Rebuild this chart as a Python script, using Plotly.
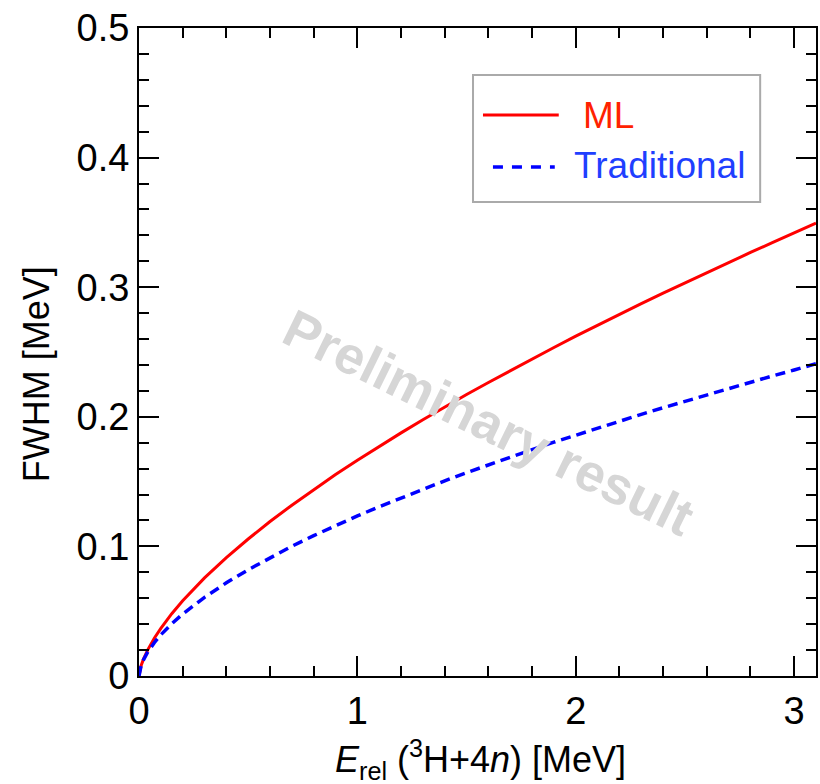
import plotly.graph_objects as go

# Data
energy = [0, 0.01, 0.02, 0.04, 0.07, 0.1, 0.15, 0.2, 0.3, 0.4, 0.5, 0.6, 0.7, 0.8,
          0.9, 1.0, 1.1, 1.2, 1.3, 1.4, 1.5, 1.6, 1.7, 1.8, 1.9, 2.0, 2.1, 2.2,
          2.3, 2.4, 2.5, 2.6, 2.7, 2.8, 2.9, 3.0, 3.1]
fwhm_ml = [0, 0.0082, 0.0128, 0.0202, 0.0292, 0.0368, 0.0481, 0.0580, 0.0757,
           0.0914, 0.1057, 0.1192, 0.1318, 0.1439, 0.1554, 0.1665, 0.1772,
           0.1876, 0.1977, 0.2076, 0.2172, 0.2265, 0.2357, 0.2447, 0.2535,
           0.2622, 0.2707, 0.2791, 0.2873, 0.2954, 0.3034, 0.3113, 0.3191,
           0.3268, 0.3344, 0.3419, 0.3494]
fwhm_trad = [0, 0.0082, 0.0123, 0.0185, 0.0257, 0.0318, 0.0403, 0.0478, 0.0607,
             0.0719, 0.0820, 0.0914, 0.1001, 0.1083, 0.1161, 0.1235, 0.1306,
             0.1375, 0.1442, 0.1506, 0.1569, 0.1630, 0.1689, 0.1747, 0.1804,
             0.1859, 0.1913, 0.1966, 0.2019, 0.2070, 0.2120, 0.2170, 0.2219,
             0.2267, 0.2315, 0.2361, 0.2410]
x_ticks = [0, 1, 2, 3]
y_ticks = [0, 0.1, 0.2, 0.3, 0.4, 0.5]
y_tick_labels = ["0", "0.1", "0.2", "0.3", "0.4", "0.5"]
series_names = ["ML", "Traditional"]

RED = "#ff0000"
BLUE = "#0000ff"
FONT = "Liberation Sans, Arial, sans-serif"

fig = go.Figure()
fig.add_trace(go.Scatter(x=energy, y=fwhm_ml, mode="lines", name=series_names[0],
                         line=dict(color=RED, width=3)))
fig.add_trace(go.Scatter(x=energy, y=fwhm_trad, mode="lines", name=series_names[1],
                         line=dict(color=BLUE, width=3.5, dash="10px,6px")))

axis_common = dict(
    showline=True, linecolor="black", linewidth=2, mirror="ticks",
    ticks="inside", ticklen=20, tickwidth=2, tickcolor="black",
    showgrid=False, zeroline=False,
    tickfont=dict(family=FONT, size=38, color="black"),
)

fig.update_xaxes(range=[0, 3.1], tickvals=x_ticks,
                 minor=dict(dtick=0.2, ticks="inside", ticklen=10, tickwidth=2, tickcolor="black", showgrid=False),
                 **axis_common)
fig.update_yaxes(range=[0, 0.5], tickvals=y_ticks, ticktext=y_tick_labels,
                 minor=dict(dtick=0.02, ticks="inside", ticklen=10, tickwidth=2, tickcolor="black", showgrid=False),
                 **axis_common)

# Legend box (manual, to match sample lengths)
fig.add_shape(type="rect", xref="paper", yref="paper",
              x0=(474-139)/679, x1=(762-139)/679, y0=(676-202)/648, y1=(676-75)/648,
              line=dict(color="#aaaaaa", width=2), fillcolor="white", layer="above")
fig.add_shape(type="line", xref="paper", yref="paper",
              x0=(484-139)/679, x1=(560-139)/679, y0=(676-115)/648, y1=(676-115)/648,
              line=dict(color=RED, width=3))
fig.add_shape(type="line", xref="paper", yref="paper",
              x0=(494-139)/679, x1=(556-139)/679, y0=(676-167)/648, y1=(676-167)/648,
              line=dict(color=BLUE, width=3.5, dash="10px,9px"))
fig.add_annotation(xref="paper", yref="paper", x=(582-139)/679, y=(676-115)/648,
                   text=series_names[0], showarrow=False, xanchor="left", yanchor="middle",
                   font=dict(family=FONT, size=37, color="#ff2200"))
fig.add_annotation(xref="paper", yref="paper", x=(573-139)/679, y=(676-165)/648,
                   text=series_names[1], showarrow=False, xanchor="left", yanchor="middle",
                   font=dict(family=FONT, size=37, color="#1f3fff"))

# Axis titles
fig.add_annotation(xref="paper", yref="paper", x=(482-139)/679, y=(676-760)/648,
                   text="<i>E</i><sub>rel</sub> (<sup>3</sup>H+4<i>n</i>) [MeV]",
                   showarrow=False, xanchor="center", yanchor="middle",
                   font=dict(family=FONT, size=36, color="black"))
fig.add_annotation(xref="paper", yref="paper", x=(37-139)/679, y=(676-374)/648,
                   text="FWHM [MeV]", textangle=-90,
                   showarrow=False, xanchor="center", yanchor="middle",
                   font=dict(family=FONT, size=36, color="black"))

# Watermark
fig.add_annotation(xref="paper", yref="paper", x=(490-139)/679, y=(676-422)/648,
                   text="<b>Preliminary result</b>", textangle=26,
                   showarrow=False, xanchor="center", yanchor="middle",
                   font=dict(family=FONT, size=53, color="#d6d6d6"))

fig.update_layout(
    width=820, height=784,
    margin=dict(l=139, r=2, t=28, b=108),
    paper_bgcolor="white", plot_bgcolor="white",
    showlegend=False,
)

fig.write_html("out.html")
